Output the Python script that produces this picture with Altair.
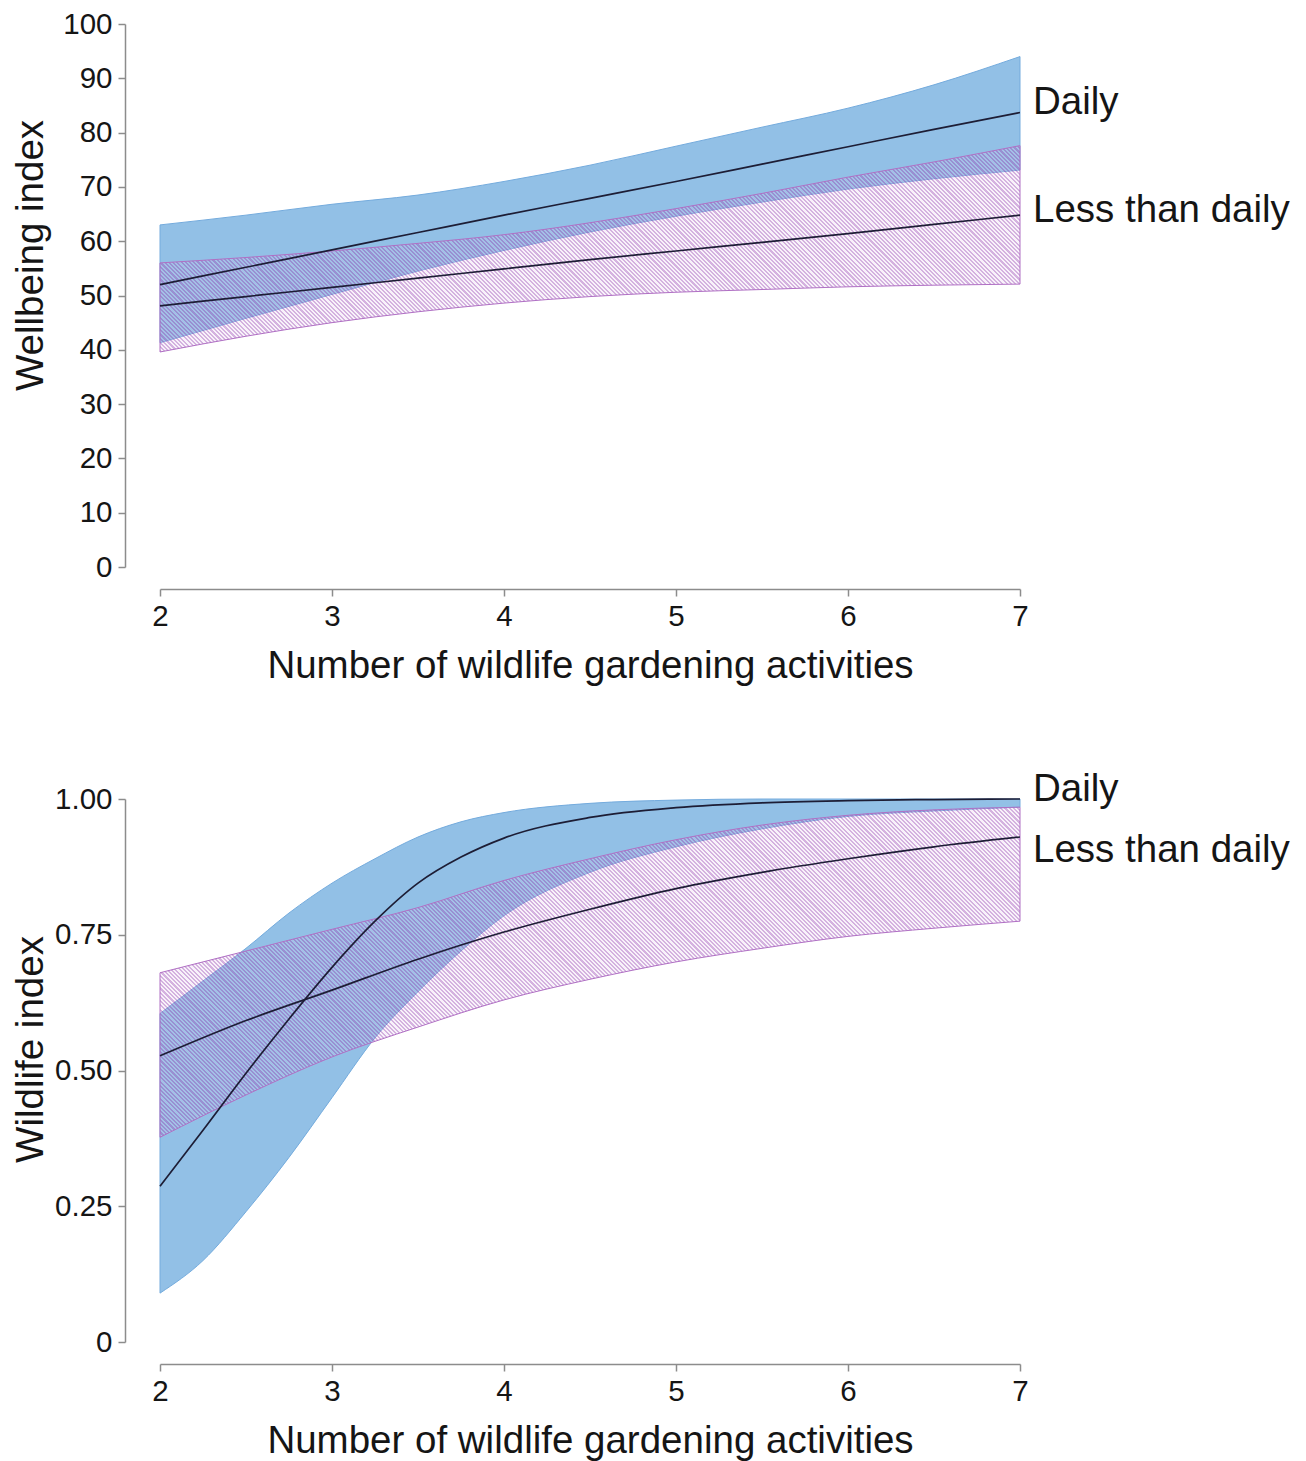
import altair as alt
import pandas as pd
import numpy as np

# ---------------- data ----------------
X_TOP = [2, 2.5, 3, 3.5, 4, 4.5, 5, 5.5, 6, 6.5, 7]
TOP_DAILY_MEAN = [52, 55.2, 58.4, 61.6, 64.8, 67.9, 71.0, 74.2, 77.4, 80.6, 83.7]
TOP_DAILY_HI = [63, 64.8, 66.8, 68.5, 71, 74, 77.5, 81, 84.5, 88.8, 94]
TOP_DAILY_LO = [41.3, 45.8, 50.2, 54.5, 58.3, 61.7, 64.6, 67.2, 69.6, 71.5, 73.1]
TOP_LTD_MEAN = [48.1, 49.8, 51.5, 53.2, 54.9, 56.6, 58.2, 59.8, 61.4, 63.1, 64.8]
TOP_LTD_HI = [56, 57, 58.2, 59.6, 61.2, 63.4, 66, 68.8, 71.8, 74.6, 77.6]
TOP_LTD_LO = [39.6, 42.5, 45, 47, 48.6, 49.8, 50.6, 51.1, 51.6, 51.9, 52.1]

X_BOT_DAILY = [2, 2.25, 2.5, 2.75, 3, 3.25, 3.5, 3.75, 4, 4.5, 5, 5.5, 6, 6.5, 7]
BOT_DAILY_MEAN = [0.287, 0.39, 0.495, 0.595, 0.69, 0.775, 0.845, 0.893, 0.928, 0.966, 0.984, 0.993, 0.997, 0.999, 1.0]
BOT_DAILY_HI = [0.605, 0.665, 0.725, 0.79, 0.845, 0.89, 0.93, 0.958, 0.975, 0.992, 0.998, 1.0, 1.0, 1.0, 1.0]
BOT_DAILY_LO = [0.09, 0.15, 0.24, 0.34, 0.45, 0.56, 0.645, 0.72, 0.785, 0.865, 0.912, 0.945, 0.968, 0.978, 0.985]

X_BOT_LTD = [2, 2.5, 3, 3.5, 4, 4.5, 5, 5.5, 6, 6.5, 7]
BOT_LTD_MEAN = [0.527, 0.592, 0.648, 0.705, 0.755, 0.797, 0.835, 0.865, 0.89, 0.912, 0.93]
BOT_LTD_HI = [0.68, 0.72, 0.76, 0.80, 0.85, 0.89, 0.925, 0.952, 0.97, 0.98, 0.985]
BOT_LTD_LO = [0.377, 0.455, 0.525, 0.58, 0.63, 0.668, 0.70, 0.725, 0.747, 0.762, 0.775]

LABELS = ["Daily", "Less than daily"]
TOP_LABEL_Y = [85.6, 65.7]
BOT_LABEL_Y = [1.018, 0.906]
X_TICKS = [2, 3, 4, 5, 6, 7]
TOP_Y_TICKS = list(range(0, 101, 10))
BOT_Y_TICKS = [0, 0.25, 0.5, 0.75, 1.0]

# ---------------- style ----------------
W, H = 860, 543
FONT = "Liberation Sans"
BLUE = "#92c0e6"
BLUE_EDGE = "#74abdd"
PINK_EDGE = "#b070c4"
LINE = "#1d1d35"
AXIS_GRAY = "#8c8c8c"
HATCH_LINE = "rgba(160,85,185,0.45)"
HATCH_GAP = "rgba(225,195,232,0.22)"


def hatch(bw, bh, period=3.0):
    n = int(np.ceil((bw + bh) / (period * np.sqrt(2))))
    stops = []
    for i in range(n):
        a, m, b = i / n, (i + 0.5) / n, (i + 1) / n
        stops += [
            alt.GradientStop(offset=round(a, 6), color=HATCH_LINE),
            alt.GradientStop(offset=round(m, 6), color=HATCH_LINE),
            alt.GradientStop(offset=round(m, 6), color=HATCH_GAP),
            alt.GradientStop(offset=round(b, 6), color=HATCH_GAP),
        ]
    k = (bw + bh) / (bw ** 2 + bh ** 2)
    return alt.LinearGradient(gradient="linear", stops=stops,
                              x1=0, y1=1, x2=round(k * bw, 5), y2=round(1 - k * bh, 5))


def panel(x_d, d_mean, d_lo, d_hi, x_l, l_mean, l_lo, l_hi, label_y,
          ydomain, yticks, ytitle, ylabel_expr, title_pad, title_y):
    df_d = pd.DataFrame({"x": x_d, "mean": d_mean, "lo": d_lo, "hi": d_hi, "group": "Daily"})
    df_l = pd.DataFrame({"x": x_l, "mean": l_mean, "lo": l_lo, "hi": l_hi, "group": "Less than daily"})
    df_lab = pd.DataFrame({"x": [7, 7], "mean": label_y, "label": LABELS})

    xscale = alt.Scale(domain=[2, 7], nice=False, zero=False)
    yscale = alt.Scale(domain=ydomain, nice=False)
    xaxis = alt.Axis(values=X_TICKS, format="d", offset=22, grid=False,
                     title="Number of wildlife gardening activities",
                     labelFlush=False, labelOverlap=False)
    yaxis = alt.Axis(values=yticks, offset=35, grid=False, title=ytitle,
                     labelExpr=ylabel_expr, labelFlush=False, labelOverlap=False,
                     titlePadding=title_pad, titleY=title_y)
    X = alt.X("x:Q", scale=xscale, axis=xaxis)

    span = ydomain[1] - ydomain[0]
    pink_h = (max(l_hi) - min(l_lo)) / span * H

    blue = alt.Chart(df_d).mark_area(fill=BLUE, stroke=BLUE_EDGE, strokeWidth=1,
                                     interpolate="monotone").encode(
        x=X, y=alt.Y("lo:Q", scale=yscale, axis=yaxis), y2="hi:Q")
    pink = alt.Chart(df_l).mark_area(fill=hatch(W, pink_h), stroke=PINK_EDGE, strokeWidth=1,
                                     interpolate="monotone").encode(
        x=X, y=alt.Y("lo:Q", scale=yscale, axis=yaxis), y2="hi:Q")
    lines = alt.Chart(pd.concat([df_d, df_l])).mark_line(
        color=LINE, strokeWidth=1.7, interpolate="monotone").encode(
        x=X, y=alt.Y("mean:Q", scale=yscale, axis=yaxis), detail="group:N")
    text = alt.Chart(df_lab).mark_text(
        align="left", baseline="middle", dx=13, font=FONT, fontSize=38.5, color="#151515").encode(
        x=X, y=alt.Y("mean:Q", scale=yscale, axis=yaxis), text="label:N")
    return alt.layer(blue, pink, lines, text).properties(width=W, height=H)


top = panel(X_TOP, TOP_DAILY_MEAN, TOP_DAILY_LO, TOP_DAILY_HI,
            X_TOP, TOP_LTD_MEAN, TOP_LTD_LO, TOP_LTD_HI, TOP_LABEL_Y,
            [0, 100], TOP_Y_TICKS, "Wellbeing index", "format(datum.value, 'd')", 12, 231)
bottom = panel(X_BOT_DAILY, BOT_DAILY_MEAN, BOT_DAILY_LO, BOT_DAILY_HI,
               X_BOT_LTD, BOT_LTD_MEAN, BOT_LTD_LO, BOT_LTD_HI, BOT_LABEL_Y,
               [0, 1], BOT_Y_TICKS, "Wildlife index",
               "datum.value == 0 ? '0' : format(datum.value, '.2f')", 4, 250)

chart = alt.vconcat(top, bottom, spacing=85).properties(
    padding={"left": 3, "top": 1, "right": 5, "bottom": 5}
).configure_view(stroke=None).configure_axis(
    domainColor=AXIS_GRAY, domainWidth=1.5, tickColor=AXIS_GRAY, tickWidth=1.5, tickSize=7,
    labelFont=FONT, labelFontSize=29.5, labelColor="#151515", labelPadding=6,
    titleFont=FONT, titleFontSize=38.5, titleFontWeight="normal", titleColor="#151515",
).configure_axisX(titlePadding=17)

chart.save("out.html", embed_options={"renderer": "svg", "actions": False})
